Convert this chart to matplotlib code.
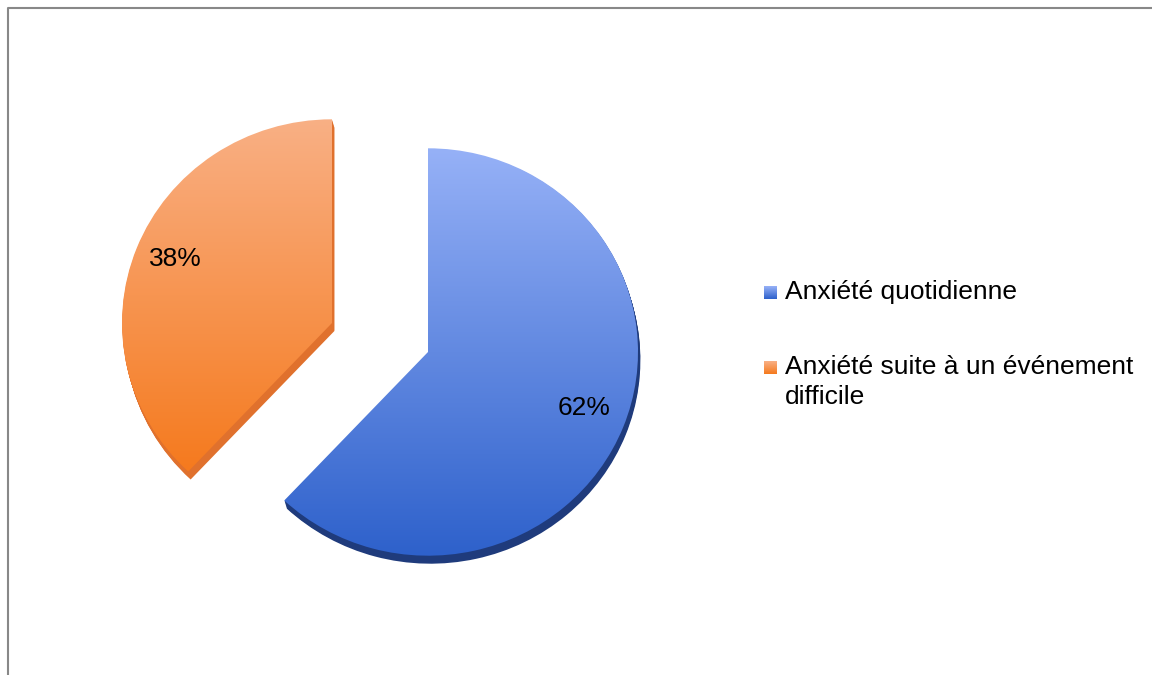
import matplotlib
matplotlib.use('Agg')
import matplotlib.pyplot as plt
import numpy as np
from matplotlib.patches import Wedge
from matplotlib.lines import Line2D
from matplotlib.colors import to_rgb

# data
labels = ['Anxiété quotidienne', 'Anxiété suite à un événement\ndifficile']
values = [62, 38]
top_colors = ['#96B1F7', '#F9B085']
bottom_colors = ['#2E61CB', '#F57A1E']
side_colors = ['#1F3B7C', '#E0712D']

W, H = 1152, 675
SQ = 0.97      # slight vertical squash (3D tilt)
DEPTH = 8      # thickness of the pie, px
R = 210


def to_data(x, y):
    # image pixel coords -> data coords
    return x, (H - y) / SQ


def gradient_fill(ax, patch, c_top, c_bot, z):
    x0, y0, x1, y1 = patch.get_path().get_extents().extents
    t = np.linspace(0, 1, 256)[:, None]
    grad = (1 - t) * np.array(to_rgb(c_bot)) + t * np.array(to_rgb(c_top))
    img = ax.imshow(grad[:, None, :], extent=(x0, x1, y0, y1), origin='lower',
                    aspect='auto', zorder=z, interpolation='bilinear')
    img.set_clip_path(patch)
    return img


fig = plt.figure(figsize=(11.52, 6.75), dpi=100)
ax = fig.add_axes([0, 0, 1, 1])

blue_c = to_data(428, 352)
orange_c = to_data(332, 323)

wedges, _ = ax.pie(values, startangle=90, counterclock=False, center=blue_c,
                   radius=R, explode=[0, 0.45], wedgeprops=dict(linewidth=0))
wedges[1].set_center(orange_c)

for w, ct, cb, cs in zip(wedges, top_colors, bottom_colors, side_colors):
    cx, cy = w.center
    # side / extrusion
    for d in range(1, DEPTH + 1):
        ax.add_patch(Wedge((cx + d * 0.3, cy - d / SQ), w.r, w.theta1, w.theta2,
                           facecolor=cs, edgecolor='none', zorder=1))
    w.set_facecolor('none')
    w.set_edgecolor('none')
    w.set_zorder(3)
    gradient_fill(ax, w, ct, cb, 2)

    # percentage labels
    mid = np.deg2rad((w.theta1 + w.theta2) / 2)
    pct = w.theta2 - w.theta1
    ax.text(cx + 0.8 * w.r * np.cos(mid), cy + 0.8 * w.r * np.sin(mid) + 4,
            '%d%%' % round(pct / 3.6), ha='center', va='center', fontsize=19,
            family='Liberation Sans', color='black', zorder=5)

# legend
leg_rows = [293, 368]
for lab, ct, cb, yrow in zip(labels, top_colors, bottom_colors, leg_rows):
    x0, y1 = to_data(764, yrow - 7)
    x1, y0 = to_data(777, yrow + 6)
    t = np.linspace(0, 1, 32)[:, None]
    grad = (1 - t) * np.array(to_rgb(cb)) + t * np.array(to_rgb(ct))
    ax.imshow(grad[:, None, :], extent=(x0, x1, y0, y1), origin='lower',
              aspect='auto', zorder=4)
    fig.text(785 / W, 1 - (yrow - 13) / H, lab, ha='left', va='top',
             fontsize=19, family='Liberation Sans', linespacing=1.32)

ax.set_aspect('auto')
ax.set_xlim(0, W)
ax.set_ylim(0, H / SQ)
ax.axis('off')

# chart border (top and left visible)
fig.add_artist(Line2D([7.5 / W, 7.5 / W, 1], [0, 1 - 7.5 / H, 1 - 7.5 / H],
                      transform=fig.transFigure, color='#888888', lw=1.5))

fig.savefig('out.png', dpi=100, facecolor='white')
